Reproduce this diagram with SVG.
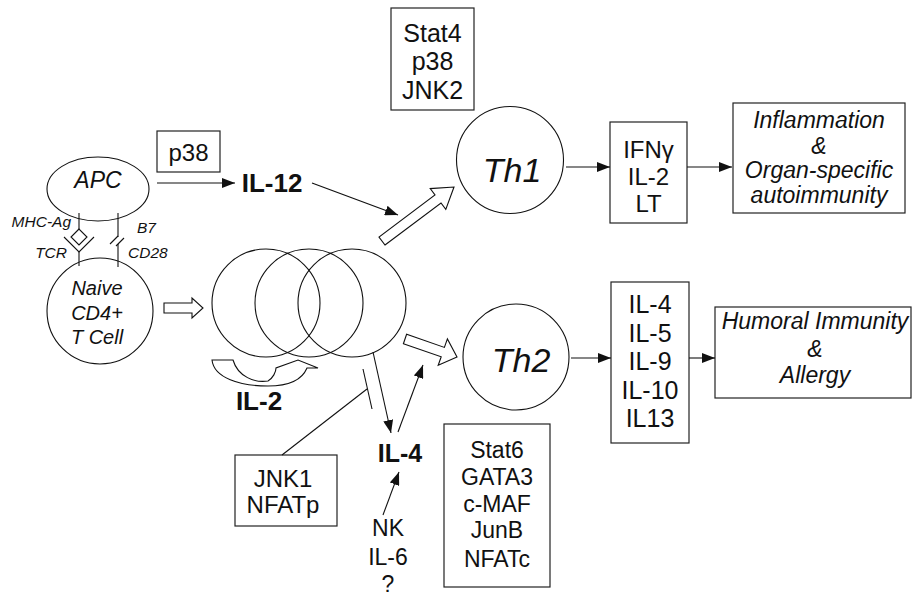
<svg xmlns="http://www.w3.org/2000/svg" width="914" height="597" viewBox="0 0 914 597">
<defs>
<style>
.box{fill:none;stroke:#222;stroke-width:1.2}
.sh{fill:none;stroke:#111;stroke-width:1.1}
.ln{fill:none;stroke:#111;stroke-width:1.1}
.oa{fill:#fff;stroke:#111;stroke-width:1.1;stroke-linejoin:miter}
.t{font-family:"Liberation Sans",Arial,sans-serif;fill:#111;text-anchor:middle}
.i{font-style:italic}
.b{font-weight:bold}
</style>
<marker id="ah" markerWidth="13" markerHeight="10" refX="13" refY="5" orient="auto" markerUnits="userSpaceOnUse"><path d="M0,0 L13,5 L0,10 z" fill="#111"/></marker>
</defs>
<rect width="914" height="597" fill="#fff"/>

<g id="apc">
<ellipse class="sh" cx="98" cy="189" rx="51" ry="32"/>
<text class="t i" x="98" y="188" font-size="23">APC</text>
</g>
<g id="receptors">
<line class="ln" x1="79" y1="213" x2="79" y2="229"/>
<polygon class="ln" points="79,229 71,237 79,245 87,237"/>
<polyline class="ln" points="64,237 79,252 94,237"/>
<line class="ln" x1="79" y1="252" x2="79" y2="266"/>
<line class="ln" x1="118" y1="213" x2="118" y2="237"/>
<line class="ln" x1="118" y1="244" x2="118" y2="267"/>
<line class="ln" x1="110" y1="244" x2="118" y2="236"/>
<line class="ln" x1="116" y1="246" x2="124" y2="238"/>
<text class="t i" x="71" y="227" font-size="15.5" style="text-anchor:end">MHC-Ag</text>
<text class="t i" x="67" y="258" font-size="15.5" style="text-anchor:end">TCR</text>
<text class="t i" x="137" y="233" font-size="15.5" style="text-anchor:start">B7</text>
<text class="t i" x="128" y="258" font-size="15.5" style="text-anchor:start">CD28</text>
</g>
<g id="naive">
<circle class="sh" cx="100" cy="311" r="53"/>
<text class="t i" x="97" y="295" font-size="20">Naive</text>
<text class="t i" x="97" y="320" font-size="20">CD4+</text>
<text class="t i" x="97" y="344" font-size="20">T Cell</text>
</g>
<g id="p38box">
<rect class="box" x="157" y="131" width="63" height="41"/>
<text class="t" x="188.5" y="161" font-size="24">p38</text>
</g>
<g id="il12"><text class="t b" x="272" y="192" font-size="26">IL-12</text></g>
<g id="proliferation">
<circle class="sh" cx="266" cy="303" r="54"/>
<circle class="sh" cx="309" cy="303" r="54"/>
<circle class="sh" cx="352" cy="303" r="54"/>
<path class="oa" d="M212,360 L233,360 C238,377 255,383 268,381 C273,378 276,372 276,368 L298,360 L318,368 L307,368 C302,380 288,386 268,386 C240,386 214,378 212,360 Z"/>
</g>
<g id="il2"><text class="t b" x="259" y="410" font-size="26">IL-2</text></g>
<g id="stat4">
<rect class="box" x="391" y="8" width="83" height="102"/>
<text class="t" x="432.5" y="42" font-size="25">Stat4</text>
<text class="t" x="432.5" y="70" font-size="25">p38</text>
<text class="t" x="432.5" y="99" font-size="25">JNK2</text>
</g>
<g id="th1">
<circle class="sh" cx="510" cy="160" r="53.5"/>
<text class="t i" x="512" y="182" font-size="34">Th1</text>
</g>
<g id="th2">
<circle class="sh" cx="516" cy="357" r="53"/>
<text class="t i" x="521" y="372" font-size="34">Th2</text>
</g>
<g id="th1cyt">
<rect class="box" x="610" y="122" width="77" height="101"/>
<text class="t" x="648.5" y="158" font-size="24">IFNγ</text>
<text class="t" x="648.5" y="185" font-size="24">IL-2</text>
<text class="t" x="648.5" y="212" font-size="24">LT</text>
</g>
<g id="inflammation">
<rect class="box" x="733" y="103" width="172" height="110"/>
<text class="t i" x="819" y="128" font-size="23">Inflammation</text>
<text class="t i" x="819" y="154" font-size="23">&amp;</text>
<text class="t i" x="819" y="178" font-size="23">Organ-specific</text>
<text class="t i" x="819" y="203" font-size="23">autoimmunity</text>
</g>
<g id="th2cyt">
<rect class="box" x="611" y="282" width="78" height="161"/>
<text class="t" x="650" y="313" font-size="25">IL-4</text>
<text class="t" x="650" y="342" font-size="25">IL-5</text>
<text class="t" x="650" y="370" font-size="25">IL-9</text>
<text class="t" x="650" y="399" font-size="25">IL-10</text>
<text class="t" x="650" y="427" font-size="25">IL13</text>
</g>
<g id="humoral">
<rect class="box" x="715" y="307" width="196" height="91"/>
<text class="t i" x="815" y="329" font-size="23">Humoral Immunity</text>
<text class="t i" x="815" y="357" font-size="23">&amp;</text>
<text class="t i" x="815" y="383" font-size="23">Allergy</text>
</g>
<g id="jnk1">
<rect class="box" x="235" y="455" width="102" height="71"/>
<text class="t" x="283" y="487" font-size="24">JNK1</text>
<text class="t" x="283" y="513" font-size="24">NFATp</text>
</g>
<g id="il4"><text class="t b" x="400" y="462" font-size="25">IL-4</text></g>
<g id="nk">
<text class="t" x="388" y="536" font-size="23">NK</text>
<text class="t" x="388" y="565" font-size="23">IL-6</text>
<text class="t" x="388" y="592" font-size="23">?</text>
</g>
<g id="stat6">
<rect class="box" x="444" y="424" width="106" height="163"/>
<text class="t" x="497" y="458" font-size="23">Stat6</text>
<text class="t" x="497" y="485" font-size="23">GATA3</text>
<text class="t" x="497" y="512" font-size="23">c-MAF</text>
<text class="t" x="497" y="538" font-size="23">JunB</text>
<text class="t" x="497" y="567" font-size="23">NFATc</text>
</g>

<g id="connectors">
<polygon class="oa" points="164,303 192,303 192,298 203,308 192,318 192,313 164,313"/>
<polygon class="oa" points="385,245 441,203 445.8,209.4 454,187 430.2,188.6 435,195 379,237"/>
<polygon class="oa" points="403.4,343.7 441.2,356.8 438.2,365.3 457,357 447.4,338.9 444.4,347.4 406.6,334.3"/>
<line class="ln" x1="157" y1="183" x2="235" y2="183" marker-end="url(#ah)"/>
<line class="ln" x1="312" y1="183" x2="398" y2="215" marker-end="url(#ah)"/>
<line class="ln" x1="566" y1="167" x2="610" y2="167" marker-end="url(#ah)"/>
<line class="ln" x1="687" y1="167" x2="732" y2="167" marker-end="url(#ah)"/>
<line class="ln" x1="571" y1="358" x2="611" y2="358" marker-end="url(#ah)"/>
<line class="ln" x1="689" y1="358" x2="715" y2="358" marker-end="url(#ah)"/>
<line class="ln" x1="373" y1="352" x2="391" y2="433" marker-end="url(#ah)"/>
<line class="ln" x1="398" y1="432" x2="423" y2="365" marker-end="url(#ah)"/>
<line class="ln" x1="383" y1="515" x2="399" y2="472" marker-end="url(#ah)"/>
<line class="ln" x1="282" y1="455" x2="367" y2="389"/>
<line class="ln" x1="363" y1="369" x2="372" y2="409"/>
</g>
</svg>
